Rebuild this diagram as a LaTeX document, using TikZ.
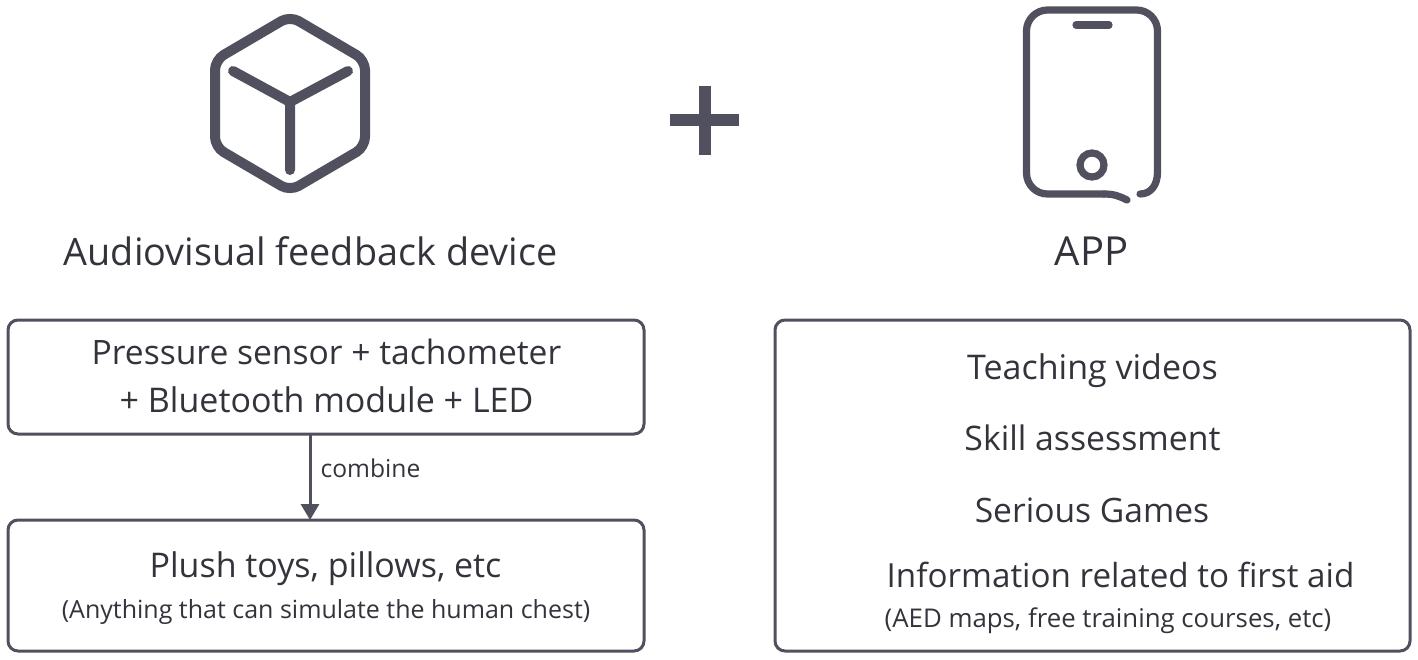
\documentclass[tikz,border=0pt]{standalone}
\usepackage{fontspec}
\setmainfont{Open Sans}
\usetikzlibrary{arrows.meta}
\definecolor{ink}{HTML}{50505E}
\definecolor{txt}{HTML}{33333C}
\newcommand{\fnt}[1]{\fontsize{#1}{#1}\selectfont}
\tikzset{
  x=0.5pt,y=-0.5pt,
  icon/.style={draw=ink,line cap=round,line join=round},
  panel/.style={draw=ink,line width=1.5pt,rounded corners=5pt,inner sep=0pt,outer sep=0pt,anchor=north west},
  big/.style={text=txt,inner sep=0pt,anchor=base},
  flow/.style={draw=ink,line width=1.5pt,-{Triangle[length=8pt,width=9pt]}}
}
\begin{document}
\begin{tikzpicture}
\useasboundingbox (0,0) rectangle (1418,659);
% cube icon
\draw[icon,line width=5pt,rounded corners=5pt] (290,16) -- (365,60) -- (365,147) -- (290,191) -- (215,147) -- (215,60) -- cycle;
\coordinate (cubeC) at (290,102);
\coordinate (cubeL) at (233,71);
\coordinate (cubeR) at (348,71);
\coordinate (cubeB) at (290,170);
\draw[icon,line width=5pt] (cubeL) -- (cubeC) -- (cubeR) (cubeC) -- (cubeB);
% plus
\coordinate (plusL) at (670,120);
\coordinate (plusR) at (739,120);
\coordinate (plusT) at (704.5,86);
\coordinate (plusB) at (704.5,155);
\draw[draw=ink,line width=6pt] (plusL) -- (plusR) (plusT) -- (plusB);
% phone icon
\draw[icon,line width=3.6pt] (1127,200) .. controls (1119,196) and (1114,194) .. (1104,194);
\draw[icon,line width=3.6pt,rounded corners=10.5pt] (1104,194) -- (1026.5,194) -- (1026.5,10) -- (1157.5,10) -- (1157.5,172);
\draw[icon,line width=3.6pt] (1157.5,172) .. controls (1157.5,185) and (1151,194) .. (1140,194);
\coordinate (spkL) at (1076,25);
\coordinate (spkR) at (1109,25);
\draw[icon,line width=3.6pt] (spkL) -- (spkR);
\node[draw=ink,line width=3.6pt,circle,minimum size=12pt,inner sep=0pt,outer sep=0pt] (homeBtn) at (1092,165) {};
% titles
\node[big,font=\fnt{18.9}] (t1) at (310.5,265) {Audiovisual feedback device};
\node[big,font=\fnt{20}] (t2) at (1091.5,265) {APP};
% boxes
\node[panel,minimum width=318pt,minimum height=57pt] (a) at (8,320) {};
\node[panel,minimum width=318pt,minimum height=65.5pt] (b) at (8,520) {};
\node[panel,minimum width=317.5pt,minimum height=165.5pt] (c) at (775,320) {};
% texts
\node[big,font=\fnt{16.8}] (a1) at (326.5,364) {Pressure sensor + tachometer};
\node[big,font=\fnt{17}] (a2) at (326.5,412) {+ Bluetooth module + LED};
\node[big,font=\fnt{17}] (b1) at (325.5,577) {Plush toys, pillows, etc};
\node[big,font=\fnt{12.5}] (b2) at (326,618) {(Anything that can simulate the human chest)};
\node[big,font=\fnt{17}] (c1) at (1092.5,379) {Teaching videos};
\node[big,font=\fnt{16.9}] (c2) at (1092.5,450) {Skill assessment};
\node[big,font=\fnt{16.8}] (c3) at (1092,522) {Serious Games};
\node[big,font=\fnt{16.6}] (c4) at (1120.5,587) {Information related to first aid};
\node[big,font=\fnt{12.9}] (c5) at (1108,627) {(AED maps, free training courses, etc)};
% connector
\coordinate (ax) at (310,430);
\draw[flow] (a.south -| ax) -- (b.north -| ax);
\node[big,font=\fnt{12.3}] (lab) at (370.5,477) {combine};
\end{tikzpicture}
\end{document}
